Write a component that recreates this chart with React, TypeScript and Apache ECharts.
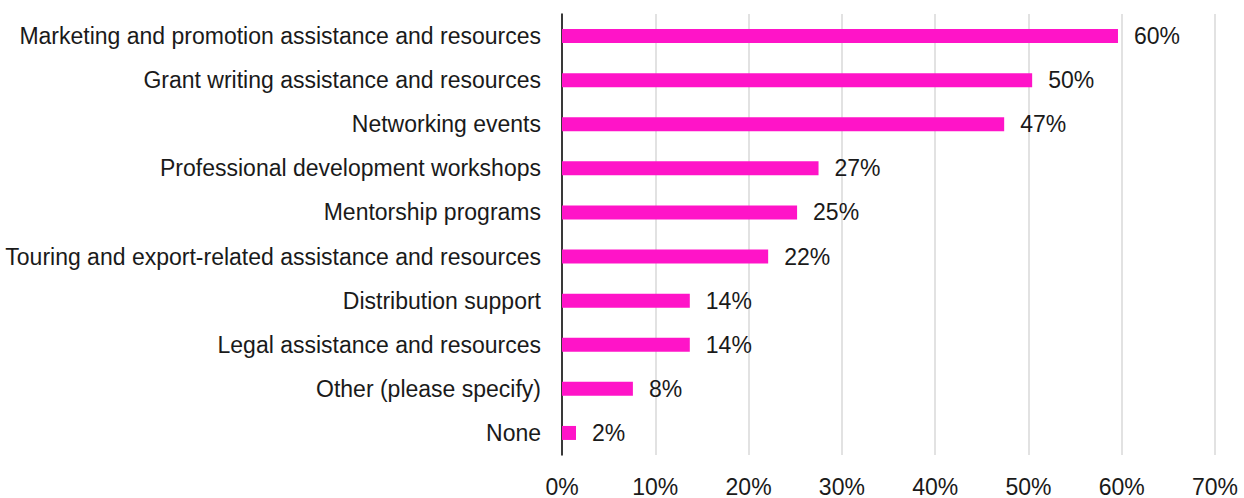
import React, { useEffect, useRef } from "react";
import * as echarts from "echarts";

const categories = [
  "Marketing and promotion assistance and resources",
  "Grant writing assistance and resources",
  "Networking events",
  "Professional development workshops",
  "Mentorship programs",
  "Touring and export-related assistance and resources",
  "Distribution support",
  "Legal assistance and resources",
  "Other (please specify)",
  "None",
];
const values = [0.596, 0.504, 0.474, 0.275, 0.252, 0.221, 0.137, 0.137, 0.076, 0.015];
const labels = ["60%", "50%", "47%", "27%", "25%", "22%", "14%", "14%", "8%", "2%"];
const xTicks = [0, 0.1, 0.2, 0.3, 0.4, 0.5, 0.6, 0.7];

const FONT = "'Liberation Sans', Arial, sans-serif";
const FS = 23;

export default function App() {
  const ref = useRef<HTMLDivElement>(null);
  useEffect(() => {
    document.body.style.margin = "0";
    if (!ref.current) return;
    const chart = echarts.init(ref.current, null, { renderer: "svg" });
    chart.setOption({
      animation: false,
      textStyle: { fontFamily: FONT },
      grid: { left: 562, right: 29, top: 14, bottom: 40, containLabel: false },
      xAxis: {
        type: "value",
        min: xTicks[0],
        max: xTicks[xTicks.length - 1],
        interval: 0.1,
        axisLine: { show: false },
        axisTick: { show: false },
        splitLine: { show: true, lineStyle: { color: "#d9d9d9", width: 1.5 } },
        axisLabel: {
          fontSize: FS,
          color: "#1a1a1a",
          margin: 20,
          fontFamily: FONT,
          formatter: (v: number) => `${Math.round(v * 100)}%`,
        },
      },
      yAxis: {
        type: "category",
        data: categories,
        inverse: true,
        axisLine: { show: true, lineStyle: { color: "#000", width: 1.5 } },
        axisTick: { show: false },
        axisLabel: { fontSize: FS, color: "#1a1a1a", margin: 21, fontFamily: FONT },
      },
      series: [
        {
          type: "bar",
          data: values,
          barWidth: 14,
          itemStyle: { color: "#ff14c8" },
          label: {
            show: true,
            position: "right",
            distance: 16,
            fontSize: FS,
            color: "#1a1a1a",
            fontFamily: FONT,
            formatter: (p: any) => labels[p.dataIndex],
          },
        },
      ],
    });
    return () => chart.dispose();
  }, []);
  return <div ref={ref} style={{ width: 1244, height: 498 }} />;
}
